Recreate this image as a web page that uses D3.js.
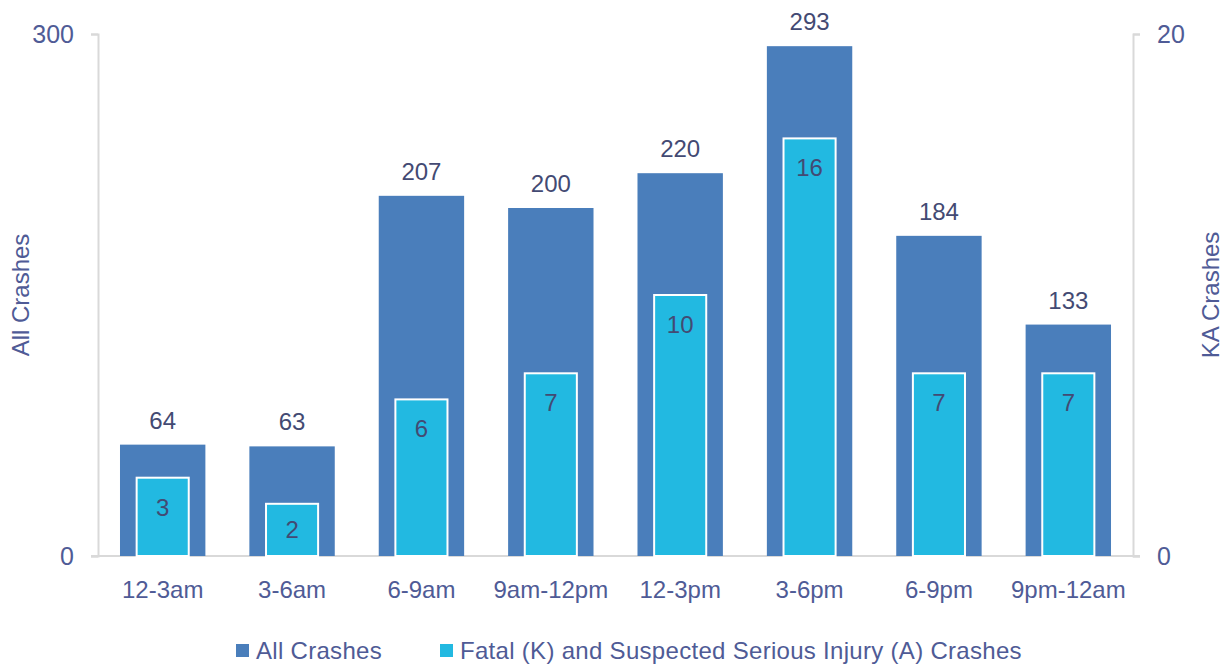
<!DOCTYPE html>
<html lang="en">
<head>
<meta charset="UTF-8">
<title>Crashes by time of day</title>
<script src="https://d3js.org/d3.v7.min.js"></script>
<style>
  body { margin: 0; background: #fff; }
  text { font-family: "Liberation Sans", Arial, sans-serif; }
</style>
</head>
<body>
<script>
// data
var categories = ["12-3am", "3-6am", "6-9am", "9am-12pm", "12-3pm", "3-6pm", "6-9pm", "9pm-12am"];
var allCrashes = [64, 63, 207, 200, 220, 293, 184, 133];
var kaCrashes = [3, 2, 6, 7, 10, 16, 7, 7];
var leftTicks = [0, 300];
var rightTicks = [0, 20];
var seriesNames = ["All Crashes", "Fatal (K) and Suspected Serious Injury (A) Crashes"];

var W = 1225, H = 664;
var margin = {top: 34, right: 92, bottom: 108, left: 98};
var width = W - margin.left - margin.right,
    height = H - margin.top - margin.bottom;

var axisColor = "#d9d9d9",
    labelColor = "#4f5b96",
    valueColor = "#434a73",
    outerColor = "#4a7ebb",
    innerColor = "#22b9e1";

var svg = d3.select("body").append("svg")
  .attr("width", W)
  .attr("height", H);

var g = svg.append("g")
  .attr("transform", "translate(" + margin.left + "," + margin.top + ")");

var x = d3.scaleBand().domain(categories).range([0, width]).paddingInner(0.34).paddingOuter(0.17);
var yL = d3.scaleLinear().domain([0, 300]).range([height, 0]);
var yR = d3.scaleLinear().domain([0, 20]).range([height, 0]);

// axes
var leftAxis = g.append("g")
  .call(d3.axisLeft(yL).tickValues(leftTicks).tickSize(7).tickPadding(17));
var rightAxis = g.append("g")
  .attr("transform", "translate(" + width + ",0)")
  .call(d3.axisRight(yR).tickValues(rightTicks).tickSize(7).tickPadding(17));
[leftAxis, rightAxis].forEach(function(a) {
  a.select(".domain").attr("stroke", axisColor).attr("stroke-width", 2);
  a.selectAll(".tick line").attr("stroke", axisColor).attr("stroke-width", 2);
  a.selectAll(".tick text").attr("fill", labelColor).style("font-size", "25px");
});

// baseline
g.append("line")
  .attr("x1", -7).attr("x2", width + 7)
  .attr("y1", height).attr("y2", height)
  .attr("stroke", axisColor).attr("stroke-width", 2);

// category labels
g.selectAll(".cat")
  .data(categories)
  .enter().append("text")
  .attr("x", function(d) { return x(d) + x.bandwidth() / 2; })
  .attr("y", height + 42)
  .attr("text-anchor", "middle")
  .attr("fill", labelColor)
  .style("font-size", "24px")
  .text(function(d) { return d; });

var rows = categories.map(function(c, i) { return {cat: c, all: allCrashes[i], ka: kaCrashes[i]}; });

// outer bars (all crashes)
g.selectAll(".outer")
  .data(rows)
  .enter().append("rect")
  .attr("x", function(d) { return x(d.cat); })
  .attr("y", function(d) { return yL(d.all); })
  .attr("width", x.bandwidth())
  .attr("height", function(d) { return height - yL(d.all); })
  .attr("fill", outerColor);

g.selectAll(".outerLabel")
  .data(rows)
  .enter().append("text")
  .attr("x", function(d) { return x(d.cat) + x.bandwidth() / 2; })
  .attr("y", function(d) { return yL(d.all) - 16; })
  .attr("text-anchor", "middle")
  .attr("fill", valueColor)
  .style("font-size", "24px")
  .text(function(d) { return d.all; });

// inner bars (KA crashes)
var innerW = x.bandwidth() * 0.61;
g.selectAll(".inner")
  .data(rows)
  .enter().append("rect")
  .attr("x", function(d) { return x(d.cat) + (x.bandwidth() - innerW) / 2; })
  .attr("y", function(d) { return yR(d.ka); })
  .attr("width", innerW)
  .attr("height", function(d) { return height - yR(d.ka); })
  .attr("fill", innerColor)
  .attr("stroke", "#fff")
  .attr("stroke-width", 2);

g.selectAll(".innerLabel")
  .data(rows)
  .enter().append("text")
  .attr("x", function(d) { return x(d.cat) + x.bandwidth() / 2; })
  .attr("y", function(d) {
    var top = yR(d.ka);
    return Math.min(top + 30, (top + height) / 2) + 8;
  })
  .attr("text-anchor", "middle")
  .attr("fill", valueColor)
  .style("font-size", "24px")
  .text(function(d) { return d.ka; });

// axis titles
svg.append("text")
  .attr("transform", "translate(29," + (margin.top + height / 2) + ") rotate(-90)")
  .attr("text-anchor", "middle")
  .attr("fill", labelColor)
  .style("font-size", "24px")
  .text("All Crashes");
svg.append("text")
  .attr("transform", "translate(1219," + (margin.top + height / 2) + ") rotate(-90)")
  .attr("text-anchor", "middle")
  .attr("fill", labelColor)
  .style("font-size", "24px")
  .text("KA Crashes");

// legend
var legendX = [236, 440];
var legendColors = [outerColor, innerColor];
var legend = svg.selectAll(".legend")
  .data(seriesNames)
  .enter().append("g")
  .attr("transform", function(d, i) { return "translate(" + legendX[i] + ",650)"; });
legend.append("rect")
  .attr("x", 0).attr("y", -6)
  .attr("width", 13).attr("height", 13)
  .attr("fill", function(d, i) { return legendColors[i]; });
legend.append("text")
  .attr("x", 20).attr("y", 8.5)
  .attr("fill", labelColor)
  .style("font-size", "24px")
  .style("letter-spacing", "0.3px")
  .text(function(d) { return d; });
</script>
</body>
</html>
